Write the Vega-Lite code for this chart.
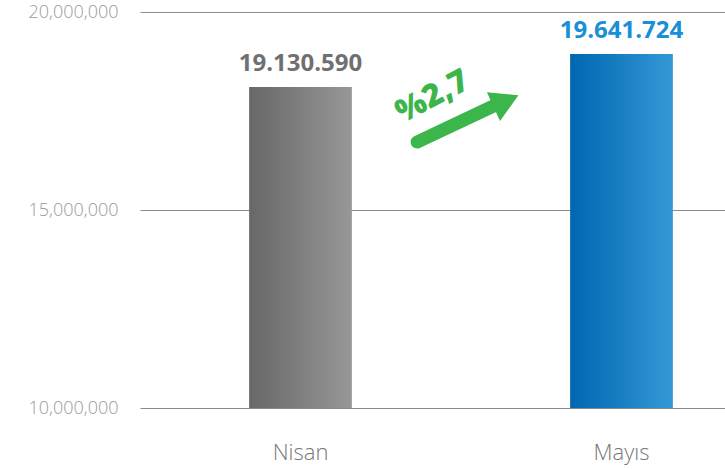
{
  "$schema": "https://vega.github.io/schema/vega-lite/v6.json",
  "width": 642,
  "height": 396,
  "autosize": {"type": "none"},
  "padding": {"left": 140, "top": 12, "right": 0, "bottom": 61},
  "background": "white",
  "config": {
    "view": {"stroke": null},
    "axisY": {"title": null, "domain": false, "ticks": false, "gridColor": "#8c8c8c", "gridOpacity": 1,
      "labelFont": "Open Sans", "labelFontWeight": 300, "labelFontSize": 18,
      "labelColor": "#9a9a9a", "labelPadding": 22},
    "axisX": {"title": null, "domain": false, "ticks": false, "grid": false, "labelAngle": 0,
      "labelFont": "Open Sans", "labelFontWeight": 300, "labelFontSize": 22,
      "labelColor": "#777777", "labelPadding": 34}
  },
  "layer": [
    {
      "data": {"values": [
        {"month": "Nisan", "bar": 18106000, "label": "19.130.590"},
        {"month": "Mayıs", "bar": 18940000, "label": "19.641.724"}
      ]},
      "layer": [
        {
          "mark": {"type": "bar"},
          "encoding": {
            "x": {"field": "month", "type": "nominal", "sort": null, "title": null,
              "scale": {"domain": ["Nisan", "Mayıs"], "paddingInner": 0.68, "paddingOuter": 0.34}},
            "y": {"field": "bar", "type": "quantitative", "title": null,
              "scale": {"domain": [10000000, 20000000], "zero": false, "nice": false},
              "axis": {"values": [10000000, 15000000, 20000000], "labelExpr": "format(datum.value, ',')"}},
            "y2": {"datum": 10000000},
            "fill": {
              "condition": {"test": "datum.month === 'Nisan'",
                "value": {"gradient": "linear", "x1": 0, "x2": 1, "y1": 0, "y2": 0,
                  "stops": [{"offset": 0, "color": "#676767"}, {"offset": 1, "color": "#979797"}]}},
              "value": {"gradient": "linear", "x1": 0, "x2": 1, "y1": 0, "y2": 0,
                "stops": [{"offset": 0, "color": "#0066b1"}, {"offset": 1, "color": "#3399d6"}]}
            }
          }
        },
        {
          "mark": {"type": "text", "dy": -16, "baseline": "alphabetic", "align": "center",
            "font": "Open Sans", "fontWeight": "bold", "fontSize": 24},
          "encoding": {
            "x": {"field": "month", "type": "nominal", "sort": null, "title": null,
              "scale": {"domain": ["Nisan", "Mayıs"], "paddingInner": 0.68, "paddingOuter": 0.34}},
            "y": {"field": "bar", "type": "quantitative", "title": null},
            "text": {"field": "label"},
            "color": {"condition": {"test": "datum.month === 'Nisan'", "value": "#707070"}, "value": "#1a8fd8"}
          }
        }
      ]
    },
    {
      "data": {"values": [
        {"part": "shaft", "x": 0.863, "y": 16717000, "x2": 1.121, "y2": 17702000},
        {"part": "head", "x": 1.14, "y": 17753000},
        {"part": "text", "x": 0.911, "y": 17866000, "label": "%2,7"}
      ]},
      "layer": [
        {
          "transform": [{"filter": "datum.part === 'shaft'"}],
          "mark": {"type": "rule", "strokeWidth": 13, "strokeCap": "round", "color": "#3cb54a"},
          "encoding": {
            "x": {"field": "x", "type": "quantitative", "scale": {"domain": [0, 2]}, "axis": null},
            "x2": {"field": "x2"},
            "y": {"field": "y", "type": "quantitative", "title": null},
            "y2": {"field": "y2"}
          }
        },
        {
          "transform": [{"filter": "datum.part === 'head'"}],
          "mark": {"type": "point", "shape": "triangle-right", "filled": true, "size": 1000, "angle": 335.5, "color": "#3cb54a", "opacity": 1},
          "encoding": {
            "x": {"field": "x", "type": "quantitative", "scale": {"domain": [0, 2]}, "axis": null},
            "y": {"field": "y", "type": "quantitative", "title": null}
          }
        },
        {
          "transform": [{"filter": "datum.part === 'text'"}],
          "mark": {"type": "text", "angle": 332, "align": "center", "baseline": "middle",
            "font": "Open Sans", "fontWeight": 800, "fontSize": 32, "color": "#3cb54a"},
          "encoding": {
            "x": {"field": "x", "type": "quantitative", "scale": {"domain": [0, 2]}, "axis": null},
            "y": {"field": "y", "type": "quantitative", "title": null},
            "text": {"field": "label"}
          }
        }
      ],
      "resolve": {"scale": {"x": "shared"}}
    }
  ],
  "resolve": {"scale": {"x": "independent"}}
}
